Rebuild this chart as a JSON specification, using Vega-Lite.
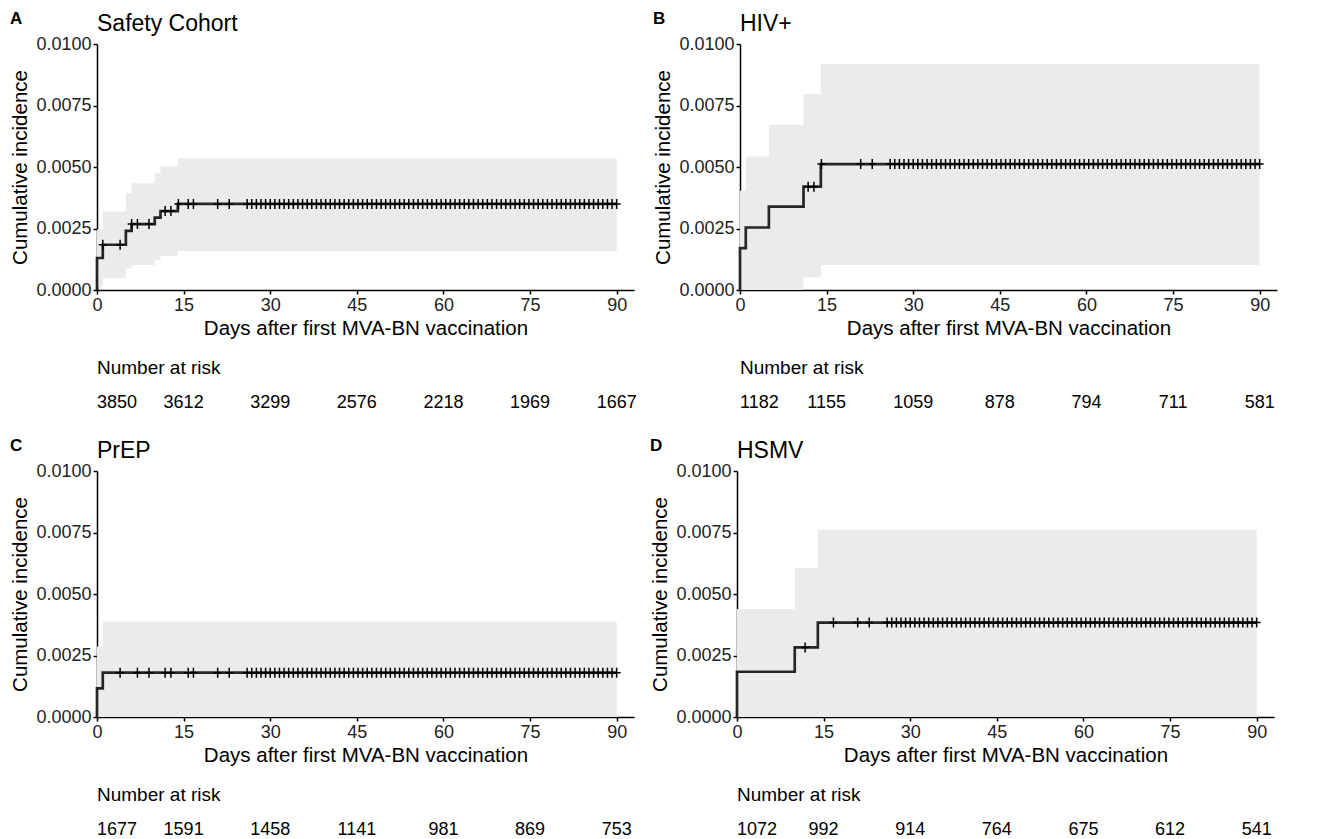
{
"$schema":"https://vega.github.io/schema/vega-lite/v6.json",
"background":"white",
"padding":{"left":10,"top":10,"right":10,"bottom":0},
"config":{
 "font":"Liberation Sans",
 "view":{"stroke":null},
 "axis":{"domainColor":"black","domainWidth":1.5,"tickColor":"black","tickWidth":1.5,"tickSize":4,"labelFont":"Liberation Sans","labelFontSize":18,"labelColor":"#222222","titleFont":"Liberation Sans","titleFontSize":20.5,"titleFontWeight":"normal","titleColor":"black","grid":false,"labelPadding":2},
 "title":{"anchor":"start","frame":"group","font":"Liberation Sans","fontWeight":"normal","color":"black"}
},
"datasets":{
 "curve":[
  {"p":"A","t":0,"est":0,"lo":0,"hi":0},
  {"p":"A","t":0,"est":0.0013,"lo":0.00012,"hi":0.00246},
  {"p":"A","t":1,"est":0.00184,"lo":0.00048,"hi":0.00319},
  {"p":"A","t":5,"est":0.0024,"lo":0.00088,"hi":0.00394},
  {"p":"A","t":6,"est":0.00268,"lo":0.00102,"hi":0.00434},
  {"p":"A","t":10,"est":0.00294,"lo":0.00122,"hi":0.00475},
  {"p":"A","t":11,"est":0.00321,"lo":0.00138,"hi":0.00502},
  {"p":"A","t":14,"est":0.0035,"lo":0.00159,"hi":0.00536},
  {"p":"A","t":90,"est":0.0035,"lo":0.00159,"hi":0.00536},
  {"p":"B","t":0,"est":0,"lo":0,"hi":0},
  {"p":"B","t":0,"est":0.0017,"lo":0,"hi":0.00403},
  {"p":"B","t":1,"est":0.00254,"lo":0,"hi":0.00543},
  {"p":"B","t":5,"est":0.00339,"lo":0,"hi":0.00672},
  {"p":"B","t":11,"est":0.0042,"lo":0.00052,"hi":0.00797},
  {"p":"B","t":14,"est":0.00512,"lo":0.00102,"hi":0.00919},
  {"p":"B","t":90,"est":0.00512,"lo":0.00102,"hi":0.00919},
  {"p":"C","t":0,"est":0,"lo":0,"hi":0},
  {"p":"C","t":0,"est":0.00116,"lo":0,"hi":0.00287},
  {"p":"C","t":1,"est":0.0018,"lo":0,"hi":0.00388},
  {"p":"C","t":90,"est":0.0018,"lo":0,"hi":0.00388},
  {"p":"D","t":0,"est":0,"lo":0,"hi":0},
  {"p":"D","t":0,"est":0.00184,"lo":0,"hi":0.00439},
  {"p":"D","t":10,"est":0.00283,"lo":0,"hi":0.00605},
  {"p":"D","t":14,"est":0.00384,"lo":0,"hi":0.00762},
  {"p":"D","t":90,"est":0.00384,"lo":0,"hi":0.00762}
 ],
 "cens":[
  {"t":1,"A":0.00184},
  {"t":4,"A":0.00184,"C":0.0018},
  {"t":6,"A":0.00268},
  {"t":7,"A":0.00268,"C":0.0018},
  {"t":9,"A":0.00268,"C":0.0018},
  {"t":11.8,"A":0.00321,"B":0.0042,"C":0.0018,"D":0.00283},
  {"t":12.8,"A":0.00321,"B":0.0042,"C":0.0018},
  {"t":14.1,"A":0.0035,"B":0.00512},
  {"t":15.8,"A":0.0035,"C":0.0018},
  {"t":16.7,"A":0.0035,"C":0.0018,"D":0.00384},
  {"t":20.9,"A":0.0035,"B":0.00512,"C":0.0018,"D":0.00384},
  {"t":22.9,"A":0.0035,"B":0.00512,"C":0.0018,"D":0.00384},
  {"t":26,"A":0.0035,"B":0.00512,"C":0.0018,"D":0.00384},
  {"t":26.8,"A":0.0035,"B":0.00512,"C":0.0018,"D":0.00384},
  {"t":27.6,"A":0.0035,"B":0.00512,"C":0.0018,"D":0.00384},
  {"t":28.4,"A":0.0035,"B":0.00512,"C":0.0018,"D":0.00384},
  {"t":29.2,"A":0.0035,"B":0.00512,"C":0.0018,"D":0.00384},
  {"t":30,"A":0.0035,"B":0.00512,"C":0.0018,"D":0.00384},
  {"t":30.8,"A":0.0035,"B":0.00512,"C":0.0018,"D":0.00384},
  {"t":31.6,"A":0.0035,"B":0.00512,"C":0.0018,"D":0.00384},
  {"t":32.4,"A":0.0035,"B":0.00512,"C":0.0018,"D":0.00384},
  {"t":33.2,"A":0.0035,"B":0.00512,"C":0.0018,"D":0.00384},
  {"t":34,"A":0.0035,"B":0.00512,"C":0.0018,"D":0.00384},
  {"t":34.8,"A":0.0035,"B":0.00512,"C":0.0018,"D":0.00384},
  {"t":35.6,"A":0.0035,"B":0.00512,"C":0.0018,"D":0.00384},
  {"t":36.4,"A":0.0035,"B":0.00512,"C":0.0018,"D":0.00384},
  {"t":37.2,"A":0.0035,"B":0.00512,"C":0.0018,"D":0.00384},
  {"t":38,"A":0.0035,"B":0.00512,"C":0.0018,"D":0.00384},
  {"t":38.8,"A":0.0035,"B":0.00512,"C":0.0018,"D":0.00384},
  {"t":39.6,"A":0.0035,"B":0.00512,"C":0.0018,"D":0.00384},
  {"t":40.4,"A":0.0035,"B":0.00512,"C":0.0018,"D":0.00384},
  {"t":41.2,"A":0.0035,"B":0.00512,"C":0.0018,"D":0.00384},
  {"t":42,"A":0.0035,"B":0.00512,"C":0.0018,"D":0.00384},
  {"t":42.8,"A":0.0035,"B":0.00512,"C":0.0018,"D":0.00384},
  {"t":43.6,"A":0.0035,"B":0.00512,"C":0.0018,"D":0.00384},
  {"t":44.4,"A":0.0035,"B":0.00512,"C":0.0018,"D":0.00384},
  {"t":45.2,"A":0.0035,"B":0.00512,"C":0.0018,"D":0.00384},
  {"t":46,"A":0.0035,"B":0.00512,"C":0.0018,"D":0.00384},
  {"t":46.8,"A":0.0035,"B":0.00512,"C":0.0018,"D":0.00384},
  {"t":47.6,"A":0.0035,"B":0.00512,"C":0.0018,"D":0.00384},
  {"t":48.4,"A":0.0035,"B":0.00512,"C":0.0018,"D":0.00384},
  {"t":49.2,"A":0.0035,"B":0.00512,"C":0.0018,"D":0.00384},
  {"t":50,"A":0.0035,"B":0.00512,"C":0.0018,"D":0.00384},
  {"t":50.8,"A":0.0035,"B":0.00512,"C":0.0018,"D":0.00384},
  {"t":51.6,"A":0.0035,"B":0.00512,"C":0.0018,"D":0.00384},
  {"t":52.4,"A":0.0035,"B":0.00512,"C":0.0018,"D":0.00384},
  {"t":53.2,"A":0.0035,"B":0.00512,"C":0.0018,"D":0.00384},
  {"t":54,"A":0.0035,"B":0.00512,"C":0.0018,"D":0.00384},
  {"t":54.8,"A":0.0035,"B":0.00512,"C":0.0018,"D":0.00384},
  {"t":55.6,"A":0.0035,"B":0.00512,"C":0.0018,"D":0.00384},
  {"t":56.4,"A":0.0035,"B":0.00512,"C":0.0018,"D":0.00384},
  {"t":57.2,"A":0.0035,"B":0.00512,"C":0.0018,"D":0.00384},
  {"t":58,"A":0.0035,"B":0.00512,"C":0.0018,"D":0.00384},
  {"t":58.8,"A":0.0035,"B":0.00512,"C":0.0018,"D":0.00384},
  {"t":59.6,"A":0.0035,"B":0.00512,"C":0.0018,"D":0.00384},
  {"t":60.4,"A":0.0035,"B":0.00512,"C":0.0018,"D":0.00384},
  {"t":61.2,"A":0.0035,"B":0.00512,"C":0.0018,"D":0.00384},
  {"t":62,"A":0.0035,"B":0.00512,"C":0.0018,"D":0.00384},
  {"t":62.8,"A":0.0035,"B":0.00512,"C":0.0018,"D":0.00384},
  {"t":63.6,"A":0.0035,"B":0.00512,"C":0.0018,"D":0.00384},
  {"t":64.4,"A":0.0035,"B":0.00512,"C":0.0018,"D":0.00384},
  {"t":65.2,"A":0.0035,"B":0.00512,"C":0.0018,"D":0.00384},
  {"t":66,"A":0.0035,"B":0.00512,"C":0.0018,"D":0.00384},
  {"t":66.8,"A":0.0035,"B":0.00512,"C":0.0018,"D":0.00384},
  {"t":67.6,"A":0.0035,"B":0.00512,"C":0.0018,"D":0.00384},
  {"t":68.4,"A":0.0035,"B":0.00512,"C":0.0018,"D":0.00384},
  {"t":69.2,"A":0.0035,"B":0.00512,"C":0.0018,"D":0.00384},
  {"t":70,"A":0.0035,"B":0.00512,"C":0.0018,"D":0.00384},
  {"t":70.8,"A":0.0035,"B":0.00512,"C":0.0018,"D":0.00384},
  {"t":71.6,"A":0.0035,"B":0.00512,"C":0.0018,"D":0.00384},
  {"t":72.4,"A":0.0035,"B":0.00512,"C":0.0018,"D":0.00384},
  {"t":73.2,"A":0.0035,"B":0.00512,"C":0.0018,"D":0.00384},
  {"t":74,"A":0.0035,"B":0.00512,"C":0.0018,"D":0.00384},
  {"t":74.8,"A":0.0035,"B":0.00512,"C":0.0018,"D":0.00384},
  {"t":75.6,"A":0.0035,"B":0.00512,"C":0.0018,"D":0.00384},
  {"t":76.4,"A":0.0035,"B":0.00512,"C":0.0018,"D":0.00384},
  {"t":77.2,"A":0.0035,"B":0.00512,"C":0.0018,"D":0.00384},
  {"t":78,"A":0.0035,"B":0.00512,"C":0.0018,"D":0.00384},
  {"t":78.8,"A":0.0035,"B":0.00512,"C":0.0018,"D":0.00384},
  {"t":79.6,"A":0.0035,"B":0.00512,"C":0.0018,"D":0.00384},
  {"t":80.4,"A":0.0035,"B":0.00512,"C":0.0018,"D":0.00384},
  {"t":81.2,"A":0.0035,"B":0.00512,"C":0.0018,"D":0.00384},
  {"t":82,"A":0.0035,"B":0.00512,"C":0.0018,"D":0.00384},
  {"t":82.8,"A":0.0035,"B":0.00512,"C":0.0018,"D":0.00384},
  {"t":83.6,"A":0.0035,"B":0.00512,"C":0.0018,"D":0.00384},
  {"t":84.4,"A":0.0035,"B":0.00512,"C":0.0018,"D":0.00384},
  {"t":85.2,"A":0.0035,"B":0.00512,"C":0.0018,"D":0.00384},
  {"t":86,"A":0.0035,"B":0.00512,"C":0.0018,"D":0.00384},
  {"t":86.8,"A":0.0035,"B":0.00512,"C":0.0018,"D":0.00384},
  {"t":87.6,"A":0.0035,"B":0.00512,"C":0.0018,"D":0.00384},
  {"t":88.4,"A":0.0035,"B":0.00512,"C":0.0018,"D":0.00384},
  {"t":89.2,"A":0.0035,"B":0.00512,"C":0.0018,"D":0.00384},
  {"t":90,"A":0.0035,"B":0.00512,"C":0.0018,"D":0.00384}
 ],
 "risk":[
  {"p":"A","t":0,"n":"3850"},{"p":"A","t":15,"n":"3612"},{"p":"A","t":30,"n":"3299"},{"p":"A","t":45,"n":"2576"},{"p":"A","t":60,"n":"2218"},{"p":"A","t":75,"n":"1969"},{"p":"A","t":90,"n":"1667"},
  {"p":"B","t":0,"n":"1182"},{"p":"B","t":15,"n":"1155"},{"p":"B","t":30,"n":"1059"},{"p":"B","t":45,"n":"878"},{"p":"B","t":60,"n":"794"},{"p":"B","t":75,"n":"711"},{"p":"B","t":90,"n":"581"},
  {"p":"C","t":0,"n":"1677"},{"p":"C","t":15,"n":"1591"},{"p":"C","t":30,"n":"1458"},{"p":"C","t":45,"n":"1141"},{"p":"C","t":60,"n":"981"},{"p":"C","t":75,"n":"869"},{"p":"C","t":90,"n":"753"},
  {"p":"D","t":0,"n":"1072"},{"p":"D","t":15,"n":"992"},{"p":"D","t":30,"n":"914"},{"p":"D","t":45,"n":"764"},{"p":"D","t":60,"n":"675"},{"p":"D","t":75,"n":"612"},{"p":"D","t":90,"n":"541"}
 ]
},
"spacing":25,
"vconcat":[
 {"spacing":16,"hconcat":[
  {"title":{"text":"A","fontSize":17,"fontWeight":"bold","offset":-28,"dx":-87,"baseline":"alphabetic"},"spacing":20,"vconcat":[
   {"width":537,"height":246,"title":{"text":"Safety Cohort","fontSize":23,"offset":-19,"baseline":"alphabetic"},"layer":[
    {"data":{"name":"curve"},"transform":[{"filter":"datum.p==='A' && datum.hi>0"}],"mark":{"type":"area","interpolate":"step-after","color":"#EBEBEB"},
     "encoding":{"x":{"field":"t","type":"quantitative","scale":{"domain":[0,93],"nice":false,"zero":true},"axis":{"values":[0,15,30,45,60,75,90],"labelFlush":false,"titlePadding":4},"title":"Days after first MVA-BN vaccination"},
      "y":{"field":"lo","type":"quantitative","scale":{"domain":[0,0.01],"nice":false},"axis":{"values":[0,0.0025,0.005,0.0075,0.01],"format":".4f","titlePadding":5},"title":"Cumulative incidence"},"y2":{"field":"hi"}}},
    {"data":{"name":"curve"},"transform":[{"filter":"datum.p==='A'"}],"mark":{"type":"line","interpolate":"step-after","color":"#262626","strokeWidth":2.7},
     "encoding":{"x":{"field":"t","type":"quantitative"},"y":{"field":"est","type":"quantitative"},"order":[{"field":"t","type":"quantitative"},{"field":"est","type":"quantitative"}]}},
    {"data":{"name":"cens"},"transform":[{"filter":"isValid(datum.A)"}],"mark":{"type":"point","shape":"M-0.8,0L0.8,0M0,-1L0,1","filled":false,"color":"black","strokeWidth":1.5,"size":100,"opacity":1},
     "encoding":{"x":{"field":"t","type":"quantitative"},"y":{"field":"A","type":"quantitative"}}}
   ]},
   {"width":537,"height":18,"title":{"text":"Number at risk","fontSize":19,"offset":1,"baseline":"alphabetic"},"data":{"name":"risk"},"transform":[{"filter":"datum.p==='A'"}],
    "encoding":{"x":{"field":"t","type":"quantitative","scale":{"domain":[0,93],"nice":false},"axis":null},"text":{"field":"n","type":"nominal"}},
    "layer":[
     {"transform":[{"filter":"datum.t===0"}],"mark":{"type":"text","align":"left","fontSize":18,"color":"black"}},
     {"transform":[{"filter":"datum.t>0"}],"mark":{"type":"text","align":"center","fontSize":18,"color":"black"}}
    ]}
  ]},
  {"title":{"text":"B","fontSize":17,"fontWeight":"bold","offset":-28,"dx":-87,"baseline":"alphabetic"},"spacing":20,"vconcat":[
   {"width":537,"height":246,"title":{"text":"HIV+","fontSize":23,"offset":-19,"baseline":"alphabetic"},"layer":[
    {"data":{"name":"curve"},"transform":[{"filter":"datum.p==='B' && datum.hi>0"}],"mark":{"type":"area","interpolate":"step-after","color":"#EBEBEB"},
     "encoding":{"x":{"field":"t","type":"quantitative","scale":{"domain":[0,93],"nice":false,"zero":true},"axis":{"values":[0,15,30,45,60,75,90],"labelFlush":false,"titlePadding":4},"title":"Days after first MVA-BN vaccination"},
      "y":{"field":"lo","type":"quantitative","scale":{"domain":[0,0.01],"nice":false},"axis":{"values":[0,0.0025,0.005,0.0075,0.01],"format":".4f","titlePadding":5},"title":"Cumulative incidence"},"y2":{"field":"hi"}}},
    {"data":{"name":"curve"},"transform":[{"filter":"datum.p==='B'"}],"mark":{"type":"line","interpolate":"step-after","color":"#262626","strokeWidth":2.7},
     "encoding":{"x":{"field":"t","type":"quantitative"},"y":{"field":"est","type":"quantitative"},"order":[{"field":"t","type":"quantitative"},{"field":"est","type":"quantitative"}]}},
    {"data":{"name":"cens"},"transform":[{"filter":"isValid(datum.B)"}],"mark":{"type":"point","shape":"M-0.8,0L0.8,0M0,-1L0,1","filled":false,"color":"black","strokeWidth":1.5,"size":100,"opacity":1},
     "encoding":{"x":{"field":"t","type":"quantitative"},"y":{"field":"B","type":"quantitative"}}}
   ]},
   {"width":537,"height":18,"title":{"text":"Number at risk","fontSize":19,"offset":1,"baseline":"alphabetic"},"data":{"name":"risk"},"transform":[{"filter":"datum.p==='B'"}],
    "encoding":{"x":{"field":"t","type":"quantitative","scale":{"domain":[0,93],"nice":false},"axis":null},"text":{"field":"n","type":"nominal"}},
    "layer":[
     {"transform":[{"filter":"datum.t===0"}],"mark":{"type":"text","align":"left","fontSize":18,"color":"black"}},
     {"transform":[{"filter":"datum.t>0"}],"mark":{"type":"text","align":"center","fontSize":18,"color":"black"}}
    ]}
  ]}
 ]},
 {"spacing":16,"hconcat":[
  {"title":{"text":"C","fontSize":17,"fontWeight":"bold","offset":-28,"dx":-87,"baseline":"alphabetic"},"spacing":20,"vconcat":[
   {"width":537,"height":246,"title":{"text":"PrEP","fontSize":23,"offset":-19,"baseline":"alphabetic"},"layer":[
    {"data":{"name":"curve"},"transform":[{"filter":"datum.p==='C' && datum.hi>0"}],"mark":{"type":"area","interpolate":"step-after","color":"#EBEBEB"},
     "encoding":{"x":{"field":"t","type":"quantitative","scale":{"domain":[0,93],"nice":false,"zero":true},"axis":{"values":[0,15,30,45,60,75,90],"labelFlush":false,"titlePadding":4},"title":"Days after first MVA-BN vaccination"},
      "y":{"field":"lo","type":"quantitative","scale":{"domain":[0,0.01],"nice":false},"axis":{"values":[0,0.0025,0.005,0.0075,0.01],"format":".4f","titlePadding":5},"title":"Cumulative incidence"},"y2":{"field":"hi"}}},
    {"data":{"name":"curve"},"transform":[{"filter":"datum.p==='C'"}],"mark":{"type":"line","interpolate":"step-after","color":"#262626","strokeWidth":2.7},
     "encoding":{"x":{"field":"t","type":"quantitative"},"y":{"field":"est","type":"quantitative"},"order":[{"field":"t","type":"quantitative"},{"field":"est","type":"quantitative"}]}},
    {"data":{"name":"cens"},"transform":[{"filter":"isValid(datum.C)"}],"mark":{"type":"point","shape":"M-0.8,0L0.8,0M0,-1L0,1","filled":false,"color":"black","strokeWidth":1.5,"size":100,"opacity":1},
     "encoding":{"x":{"field":"t","type":"quantitative"},"y":{"field":"C","type":"quantitative"}}}
   ]},
   {"width":537,"height":18,"title":{"text":"Number at risk","fontSize":19,"offset":1,"baseline":"alphabetic"},"data":{"name":"risk"},"transform":[{"filter":"datum.p==='C'"}],
    "encoding":{"x":{"field":"t","type":"quantitative","scale":{"domain":[0,93],"nice":false},"axis":null},"text":{"field":"n","type":"nominal"}},
    "layer":[
     {"transform":[{"filter":"datum.t===0"}],"mark":{"type":"text","align":"left","fontSize":18,"color":"black"}},
     {"transform":[{"filter":"datum.t>0"}],"mark":{"type":"text","align":"center","fontSize":18,"color":"black"}}
    ]}
  ]},
  {"title":{"text":"D","fontSize":17,"fontWeight":"bold","offset":-28,"dx":-87,"baseline":"alphabetic"},"spacing":20,"vconcat":[
   {"width":537,"height":246,"title":{"text":"HSMV","fontSize":23,"offset":-19,"baseline":"alphabetic"},"layer":[
    {"data":{"name":"curve"},"transform":[{"filter":"datum.p==='D' && datum.hi>0"}],"mark":{"type":"area","interpolate":"step-after","color":"#EBEBEB"},
     "encoding":{"x":{"field":"t","type":"quantitative","scale":{"domain":[0,93],"nice":false,"zero":true},"axis":{"values":[0,15,30,45,60,75,90],"labelFlush":false,"titlePadding":4},"title":"Days after first MVA-BN vaccination"},
      "y":{"field":"lo","type":"quantitative","scale":{"domain":[0,0.01],"nice":false},"axis":{"values":[0,0.0025,0.005,0.0075,0.01],"format":".4f","titlePadding":5},"title":"Cumulative incidence"},"y2":{"field":"hi"}}},
    {"data":{"name":"curve"},"transform":[{"filter":"datum.p==='D'"}],"mark":{"type":"line","interpolate":"step-after","color":"#262626","strokeWidth":2.7},
     "encoding":{"x":{"field":"t","type":"quantitative"},"y":{"field":"est","type":"quantitative"},"order":[{"field":"t","type":"quantitative"},{"field":"est","type":"quantitative"}]}},
    {"data":{"name":"cens"},"transform":[{"filter":"isValid(datum.D)"}],"mark":{"type":"point","shape":"M-0.8,0L0.8,0M0,-1L0,1","filled":false,"color":"black","strokeWidth":1.5,"size":100,"opacity":1},
     "encoding":{"x":{"field":"t","type":"quantitative"},"y":{"field":"D","type":"quantitative"}}}
   ]},
   {"width":537,"height":18,"title":{"text":"Number at risk","fontSize":19,"offset":1,"baseline":"alphabetic"},"data":{"name":"risk"},"transform":[{"filter":"datum.p==='D'"}],
    "encoding":{"x":{"field":"t","type":"quantitative","scale":{"domain":[0,93],"nice":false},"axis":null},"text":{"field":"n","type":"nominal"}},
    "layer":[
     {"transform":[{"filter":"datum.t===0"}],"mark":{"type":"text","align":"left","fontSize":18,"color":"black"}},
     {"transform":[{"filter":"datum.t>0"}],"mark":{"type":"text","align":"center","fontSize":18,"color":"black"}}
    ]}
  ]}
 ]}
]
}
